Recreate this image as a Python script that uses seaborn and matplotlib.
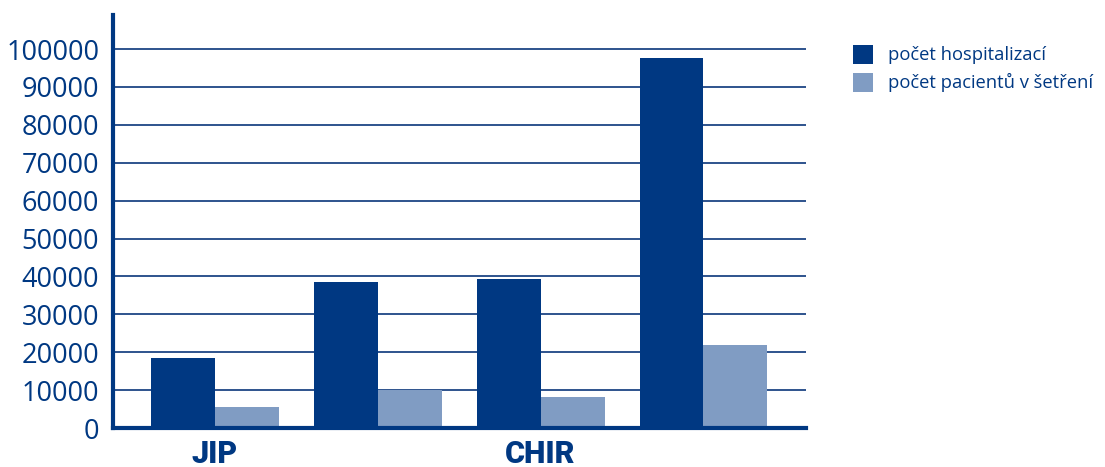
import matplotlib
matplotlib.use("Agg")
import matplotlib.pyplot as plt
import seaborn as sns
import pandas as pd

# data
groups = ["JIP", "JIP b", "CHIR", "CHIR b"]
group_labels = ["JIP", "", "CHIR", ""]
series = ["počet hospitalizací", "počet pacientů v šetření"]
hospitalizace = [18500, 38600, 39400, 97600]
pacienti = [5600, 9900, 8200, 22000]

navy = "#003882"
light = "#809cc3"

df = pd.DataFrame({
    "skupina": groups * 2,
    "serie": [series[0]] * 4 + [series[1]] * 4,
    "hodnota": hospitalizace + pacienti,
})

sns.set_theme(style="white")
plt.rcParams["font.family"] = ["Open Sans", "DejaVu Sans"]

fig = plt.figure(figsize=(11.05, 4.67), dpi=100)
ax = fig.add_axes([0.1023, 0.0835, 0.6271, 0.8845])

sns.barplot(data=df, x="skupina", y="hodnota", hue="serie", order=groups,
            hue_order=series, palette=[navy, light], width=0.785,
            saturation=1, linewidth=0, ax=ax, legend=True)

ax.set_ylim(0, 109000)
ax.set_xlim(-0.626, 3.63)
ax.set_yticks(range(0, 100001, 10000))
ax.set_yticklabels([str(v) for v in range(0, 100001, 10000)],
                   fontsize=19.5, color=navy)
ax.set_xticks(range(len(groups)))
ax.set_xticklabels(group_labels, fontsize=22, color=navy,
                   family=["Roboto", "DejaVu Sans"], fontweight="black")
ax.tick_params(axis="y", length=0, pad=10)
ax.tick_params(axis="x", length=0, pad=8)
ax.set_xlabel("")
ax.set_ylabel("")

ax.yaxis.grid(True, color="#1e4585", linewidth=1.3)
ax.set_axisbelow(True)
for side in ["top", "right"]:
    ax.spines[side].set_visible(False)
for side in ["left", "bottom"]:
    ax.spines[side].set_color(navy)
    ax.spines[side].set_linewidth(3)

handles, labels = ax.get_legend_handles_labels()
ax.get_legend().remove()
fig.legend(handles, labels, loc="upper left", bbox_to_anchor=(0.757, 0.94),
           frameon=False, fontsize=13.2, handlelength=1.1, handleheight=1.25,
           handletextpad=0.8, labelspacing=0.45, labelcolor=navy)

fig.savefig("out.png", dpi=100)
